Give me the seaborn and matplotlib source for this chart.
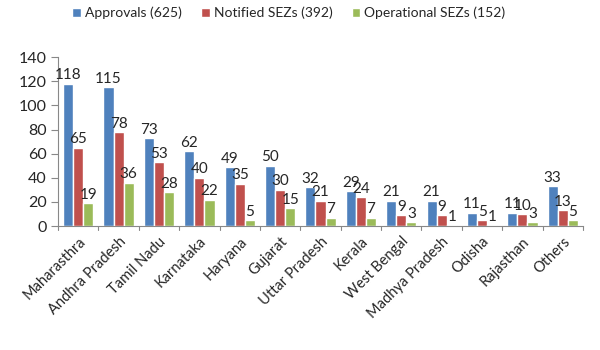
import pandas as pd
import matplotlib.pyplot as plt
import seaborn as sns

# =========================
# DATA
# =========================

states = ["Maharasthra", "Andhra Pradesh", "Tamil Nadu", "Karnataka", "Haryana",
          "Gujarat", "Uttar Pradesh", "Kerala", "West Bengal", "Madhya Pradesh",
          "Odisha", "Rajasthan", "Others"]
approvals = [118, 115, 73, 62, 49, 50, 32, 29, 21, 21, 11, 11, 33]
notified = [65, 78, 53, 40, 35, 30, 21, 24, 9, 9, 5, 10, 13]
operational = [19, 36, 28, 22, 5, 15, 7, 7, 3, 1, 1, 3, 5]
series_names = ["Approvals (625)", "Notified SEZs (392)", "Operational SEZs (152)"]

df = pd.DataFrame({"State": states, series_names[0]: approvals,
                   series_names[1]: notified, series_names[2]: operational})
long_df = df.melt(id_vars="State", var_name="Series", value_name="Count")

# =========================
# PLOT
# =========================

sns.set_style("white")
plt.rcParams["font.family"] = ["Lato", "DejaVu Sans"]

fig = plt.figure(figsize=(6, 3.5), dpi=100)
ax = fig.add_axes([0.0967, 0.354, 0.875, 0.483])

palette = ["#4F81BD", "#C0504D", "#9BBB59"]
sns.barplot(data=long_df, x="State", y="Count", hue="Series", palette=palette,
            width=0.75, ax=ax, saturation=1)

for cont in ax.containers:
    ax.bar_label(cont, fontsize=11, padding=1)

ax.set_ylim(0, 140)
ax.set_yticks(range(0, 141, 20))
ax.set_xlim(-0.5, len(states) - 0.5)
ax.set_xlabel("")
ax.set_ylabel("")
ax.tick_params(axis="y", labelsize=11.5, length=5, left=True, color="#888888", pad=3)
ax.tick_params(axis="x", labelsize=10.5, length=0, pad=6)
ax.set_xticks(range(len(states)))
ax.set_xticklabels(states, rotation=45, ha="right", rotation_mode="anchor")

# category boundary ticks like Excel
for b in range(len(states) + 1):
    ax.plot([b - 0.5, b - 0.5], [0, -3], color="#888888", lw=0.8, clip_on=False)

for s in ["top", "right"]:
    ax.spines[s].set_visible(False)
ax.spines["left"].set_color("#888888")
ax.spines["bottom"].set_color("#888888")

ax.legend(loc="center", bbox_to_anchor=(0.44, 1.26), ncol=3, frameon=False,
          fontsize=10, handlelength=0.6, handleheight=0.6, handletextpad=0.3,
          columnspacing=1.4)

fig.savefig("out.png", dpi=100)
